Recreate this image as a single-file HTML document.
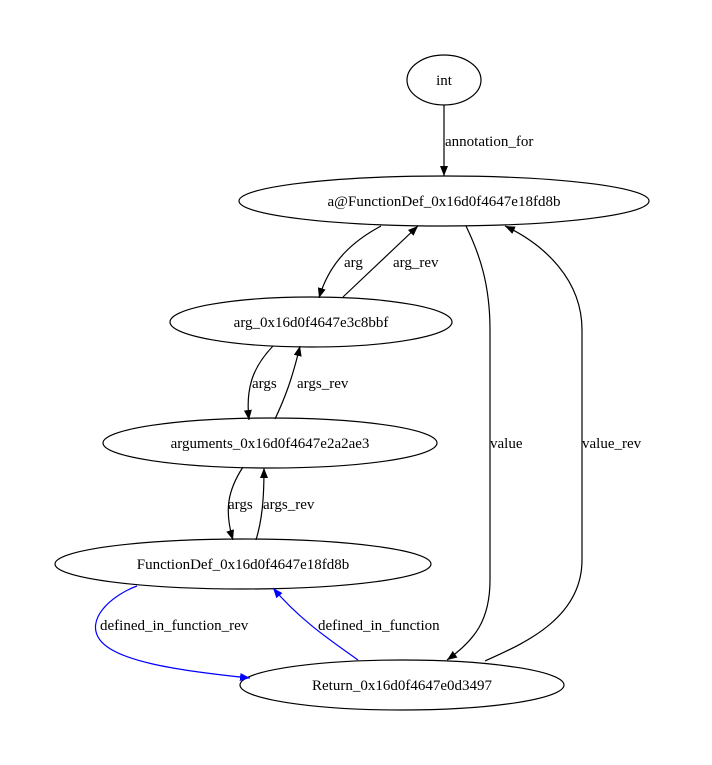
<!DOCTYPE html>
<html><head><meta charset="utf-8"><style>html,body{margin:0;padding:0;background:#fff}svg{display:block}</style></head>
<body>
<svg width="712" height="765" viewBox="0 0 712 765" xmlns="http://www.w3.org/2000/svg" font-family="Liberation Serif, serif" font-size="15">
<defs>
<marker id="ab" viewBox="0 0 10 10" refX="10" refY="5" markerWidth="10" markerHeight="10" markerUnits="userSpaceOnUse" orient="auto"><path d="M0,1 L10,5 L0,9 z" fill="#000"/></marker>
<marker id="au" viewBox="0 0 10 10" refX="10" refY="5" markerWidth="10" markerHeight="10" markerUnits="userSpaceOnUse" orient="auto"><path d="M0,1 L10,5 L0,9 z" fill="#00f"/></marker>
</defs>
<g fill="none" stroke="#000" stroke-width="1.2">
<ellipse cx="444" cy="80" rx="37" ry="25"/>
<ellipse cx="444" cy="201" rx="205" ry="25"/>
<ellipse cx="311" cy="322" rx="141" ry="25"/>
<ellipse cx="270" cy="443" rx="167" ry="25"/>
<ellipse cx="243" cy="564" rx="188" ry="25"/>
<ellipse cx="402" cy="685" rx="162" ry="25"/>
<path d="M444,105 L444,176" marker-end="url(#ab)"/>
<path d="M381,226 C355,240 330,260 319,298" marker-end="url(#ab)"/>
<path d="M343,297 L418,226" marker-end="url(#ab)"/>
<path d="M273,346 C255,365 245,385 249,420" marker-end="url(#ab)"/>
<path d="M275,419 C284,400 292,380 300,346" marker-end="url(#ab)"/>
<path d="M243,467 C228,490 224,510 233,540" marker-end="url(#ab)"/>
<path d="M256,540 C262,520 264,500 264,468" marker-end="url(#ab)"/>
<path d="M466,226 C480,255 490,285 490,330 L490,580 C490,620 475,640 447,660" marker-end="url(#ab)"/>
<path d="M485,661 C520,645 582,620 582,560 L582,330 C582,280 545,245 505,226" marker-end="url(#ab)"/>
<path d="M137,586 C110,596 85,620 100,640 C115,660 170,670 250,678" stroke="#00f" marker-end="url(#au)"/>
<path d="M358,660 C330,640 300,620 273,588" stroke="#00f" marker-end="url(#au)"/>
</g>
<g fill="#000" text-anchor="middle">
<text x="444" y="85">int</text>
<text x="444" y="206">a@FunctionDef_0x16d0f4647e18fd8b</text>
<text x="311" y="327">arg_0x16d0f4647e3c8bbf</text>
<text x="270" y="448">arguments_0x16d0f4647e2a2ae3</text>
<text x="243" y="569">FunctionDef_0x16d0f4647e18fd8b</text>
<text x="402" y="690">Return_0x16d0f4647e0d3497</text>
</g>
<g fill="#000">
<text x="445" y="146">annotation_for</text>
<text x="344" y="267">arg</text>
<text x="393" y="267">arg_rev</text>
<text x="252" y="388">args</text>
<text x="297" y="388">args_rev</text>
<text x="228" y="509">args</text>
<text x="263" y="509">args_rev</text>
<text x="490" y="448">value</text>
<text x="582" y="448">value_rev</text>
<text x="100" y="630">defined_in_function_rev</text>
<text x="318" y="630">defined_in_function</text>
</g>
</svg>
</body></html>
